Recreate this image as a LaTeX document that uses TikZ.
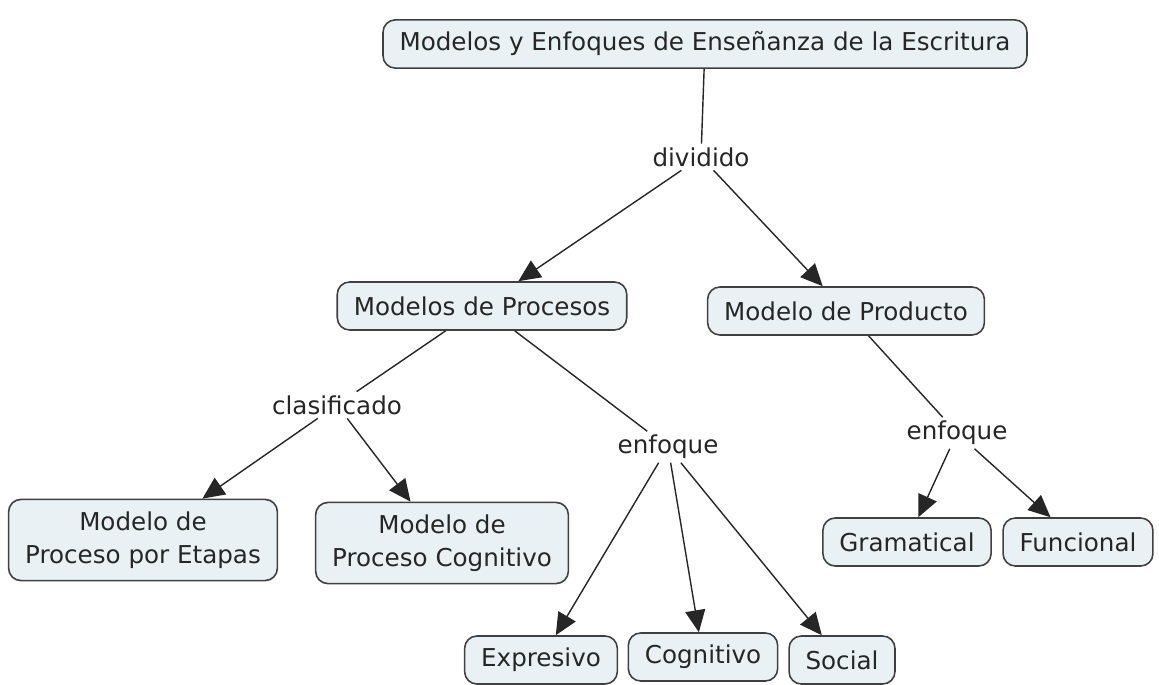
\documentclass[tikz,border=0pt]{standalone}
\usepackage{fontspec}
\setmainfont{DejaVu Sans}
\usetikzlibrary{arrows.meta}
\definecolor{conceptfill}{HTML}{EAF1F5}
\definecolor{conceptline}{HTML}{404040}
\tikzset{
	concept/.style={draw=conceptline, fill=conceptfill, line width=0.9pt, rounded corners=7pt,
		align=center, inner xsep=0.33cm, inner ysep=0.24cm, minimum height=0.96cm,
		font=\fontsize{14}{19}\selectfont, text=black!85},
	linkword/.style={inner sep=2pt, font=\fontsize{14}{16}\selectfont, text=black!85},
	link/.style={line width=0.8pt, draw=black!85},
	arr/.style={link, -{Triangle[length=0.44cm,width=0.4cm]}}
}
\begin{document}
\begin{tikzpicture}[x=0.02cm, y=-0.02cm]
		\useasboundingbox (0,0) rectangle (1159,685);

		\node[concept] (top) at (705,44) {Modelos y Enfoques de Enseñanza de la Escritura};
		\node[linkword] (div) at (701,157) {dividido};
		\node[concept] (proc) at (482,306) {Modelos de Procesos};
		\node[concept] (prod) at (846,311) {Modelo de Producto};
		\node[linkword] (clas) at (337,405) {clasificado};
		\node[linkword] (enfa) at (668,447) {enfoque};
		\node[linkword] (enfb) at (957,433) {enfoque};
		\node[concept] (etap) at (143,540) {Modelo de\\Proceso por Etapas};
		\node[concept] (pcog) at (442,543) {Modelo de\\Proceso Cognitivo};
		\node[concept] (expr) at (541,660) {Expresivo};
		\node[concept] (cogn) at (703,657) {Cognitivo};
		\node[concept] (soc) at (842,660) {Social};
		\node[concept] (gram) at (907,542) {Gramatical};
		\node[concept] (func) at (1078,542) {Funcional};

		\draw[link] (top) -- (div);
		\draw[arr] (div) -- (proc);
		\draw[arr] (div) -- (prod);
		\draw[link] (proc) -- (clas);
		\draw[link] (proc) -- (enfa);
		\draw[link] (prod) -- (enfb);
		\draw[arr] (clas) -- (etap);
		\draw[arr] (clas) -- (pcog);
		\draw[arr] (enfa) -- (expr);
		\draw[arr] (enfa) -- (cogn);
		\draw[arr] (enfa) -- (soc);
		\draw[arr] (enfb) -- (gram);
		\draw[arr] (enfb) -- (func);
	\end{tikzpicture}
\end{document}
